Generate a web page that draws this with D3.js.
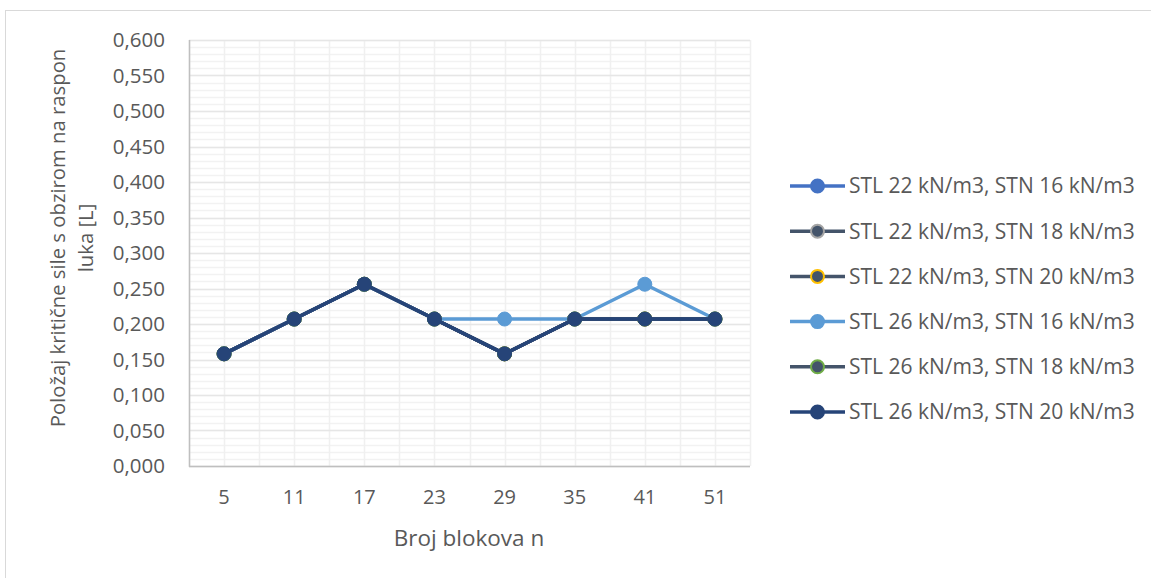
<!DOCTYPE html>
<html>
<head>
<meta charset="utf-8">
<script src="https://cdn.jsdelivr.net/npm/d3@7"></script>
<style>
  body { margin: 0; background: #fff; }
  text { font-family: "Open Sans", "Liberation Sans", sans-serif; fill: #595959; }
</style>
</head>
<body>
<svg id="chart" width="1151" height="578"></svg>
<script>
// categories on x (number of blocks)
var categories = ["5", "11", "17", "23", "29", "35", "41", "51"]

// series names, as in the legend
var seriesNames = [
    "STL 22 kN/m3, STN 16 kN/m3",
    "STL 22 kN/m3, STN 18 kN/m3",
    "STL 22 kN/m3, STN 20 kN/m3",
    "STL 26 kN/m3, STN 16 kN/m3",
    "STL 26 kN/m3, STN 18 kN/m3",
    "STL 26 kN/m3, STN 20 kN/m3"
]

// values
var stl22stn16 = [0.158, 0.207, 0.256, 0.207, 0.158, 0.207, 0.207, 0.207]
var stl22stn18 = [0.158, 0.207, 0.256, 0.207, 0.158, 0.207, 0.207, 0.207]
var stl22stn20 = [0.158, 0.207, 0.256, 0.207, 0.158, 0.207, 0.207, 0.207]
var stl26stn16 = [0.158, 0.207, 0.256, 0.207, 0.207, 0.207, 0.256, 0.207]
var stl26stn18 = [0.158, 0.207, 0.256, 0.207, 0.158, 0.207, 0.207, 0.207]
var stl26stn20 = [0.158, 0.207, 0.256, 0.207, 0.158, 0.207, 0.207, 0.207]

var yTicks = [0, 0.05, 0.1, 0.15, 0.2, 0.25, 0.3, 0.35, 0.4, 0.45, 0.5, 0.55, 0.6]

var allValues = [stl22stn16, stl22stn18, stl22stn20, stl26stn16, stl26stn18, stl26stn20]

// styles (line colour, marker fill, marker border)
var lineColors = ["#4472C4", "#44546A", "#44546A", "#5B9BD5", "#44546A", "#264478"]
var markerStroke = ["#4472C4", "#A5A5A5", "#FFC000", "#5B9BD5", "#70AD47", "#264478"]

var svg = d3.select("#chart")

// chart border
svg.append("rect")
    .attr("x", 5.5).attr("y", 10.5)
    .attr("width", 1160).attr("height", 600)
    .attr("fill", "none")
    .attr("stroke", "#D9D9D9")

var pLeft = 189, pRight = 750, pTop = 40, pBottom = 466

var x = d3.scalePoint()
    .domain(categories)
    .range([pLeft, pRight])
    .padding(0.5)

var y = d3.scaleLinear()
    .domain([0, 0.6])
    .range([pBottom, pTop])

var step = x.step()

// minor horizontal grid
var g = svg.append("g")
g.selectAll(".hminor")
    .data(d3.range(0, 61).map(function(d) { return d / 100 }))
    .enter().append("line")
    .attr("x1", pLeft).attr("x2", pRight)
    .attr("y1", function(d) { return Math.round(y(d)) + 0.5 })
    .attr("y2", function(d) { return Math.round(y(d)) + 0.5 })
    .attr("stroke", "#F2F2F2")
    .attr("stroke-width", 1.5)

// vertical grid (category centres and boundaries)
var vpos = []
categories.forEach(function(c) {
    vpos.push(x(c) - step / 2)
    vpos.push(x(c))
})
vpos.push(pRight)
g.selectAll(".vgrid")
    .data(vpos)
    .enter().append("line")
    .attr("y1", pTop).attr("y2", pBottom)
    .attr("x1", function(d) { return Math.round(d) + 0.5 })
    .attr("x2", function(d) { return Math.round(d) + 0.5 })
    .attr("stroke", "#F0F0F0")
    .attr("stroke-width", 1.5)

// major horizontal grid
g.selectAll(".hmajor")
    .data(yTicks)
    .enter().append("line")
    .attr("x1", pLeft).attr("x2", pRight)
    .attr("y1", function(d) { return Math.round(y(d)) + 0.5 })
    .attr("y2", function(d) { return Math.round(y(d)) + 0.5 })
    .attr("stroke", "#E6E6E6")
    .attr("stroke-width", 1.5)

// axes lines
svg.append("line")
    .attr("x1", pLeft + 0.5).attr("x2", pLeft + 0.5)
    .attr("y1", pTop).attr("y2", pBottom + 1)
    .attr("stroke", "#BFBFBF").attr("stroke-width", 1.5)
svg.append("line")
    .attr("x1", pLeft).attr("x2", pRight)
    .attr("y1", pBottom + 0.5).attr("y2", pBottom + 0.5)
    .attr("stroke", "#BFBFBF").attr("stroke-width", 1.5)

// y tick labels
var fmt = d3.format(".3f")
svg.selectAll(".ylab")
    .data(yTicks)
    .enter().append("text")
    .attr("x", 165)
    .attr("y", function(d) { return y(d) })
    .attr("dy", "0.35em")
    .attr("text-anchor", "end")
    .attr("font-size", 20.5)
    .text(function(d) { return fmt(d).replace(".", ",") })

// x tick labels
svg.selectAll(".xlab")
    .data(categories)
    .enter().append("text")
    .attr("x", function(d) { return x(d) })
    .attr("y", 497)
    .attr("dy", "0.35em")
    .attr("text-anchor", "middle")
    .attr("font-size", 20)
    .text(function(d) { return d })

// axis titles
svg.append("text")
    .attr("x", 469)
    .attr("y", 538)
    .attr("dy", "0.35em")
    .attr("text-anchor", "middle")
    .attr("font-size", 22.5)
    .text("Broj blokova n")

var yt = svg.append("text")
    .attr("transform", "translate(58,238) rotate(-90)")
    .attr("text-anchor", "middle")
    .attr("font-size", 20.3)
yt.append("tspan").attr("x", 0).attr("dy", "0.35em").text("Položaj kritične sile s obzirom na raspon")
yt.append("tspan").attr("x", 0).attr("dy", "1.35em").text("luka [L]")

// lines and markers
var line = d3.line()
    .x(function(d, i) { return x(categories[i]) })
    .y(function(d) { return y(d) })

allValues.forEach(function(vals, s) {
    var sg = svg.append("g")
    sg.append("path")
        .datum(vals)
        .attr("d", line)
        .attr("fill", "none")
        .attr("stroke", lineColors[s])
        .attr("stroke-width", 3.5)
        .attr("stroke-linejoin", "round")
    sg.selectAll("circle")
        .data(vals)
        .enter().append("circle")
        .attr("cx", function(d, i) { return x(categories[i]) })
        .attr("cy", function(d) { return y(d) })
        .attr("r", 7)
        .attr("fill", lineColors[s])
        .attr("stroke", markerStroke[s])
        .attr("stroke-width", 1)
})

// legend
var legend = svg.selectAll(".leg")
    .data(seriesNames)
    .enter().append("g")
    .attr("transform", function(d, i) { return "translate(790," + (186 + i * 45.2) + ")" })

legend.append("line")
    .attr("x1", 0).attr("x2", 55)
    .attr("stroke", function(d, i) { return lineColors[i] })
    .attr("stroke-width", 3.5)
legend.append("circle")
    .attr("cx", 27.5).attr("r", 6.5)
    .attr("fill", function(d, i) { return lineColors[i] })
    .attr("stroke", function(d, i) { return markerStroke[i] })
    .attr("stroke-width", 2)
legend.append("text")
    .attr("x", 59)
    .attr("dy", "0.35em")
    .attr("font-size", 21)
    .text(function(d) { return d })
</script>
</body>
</html>
